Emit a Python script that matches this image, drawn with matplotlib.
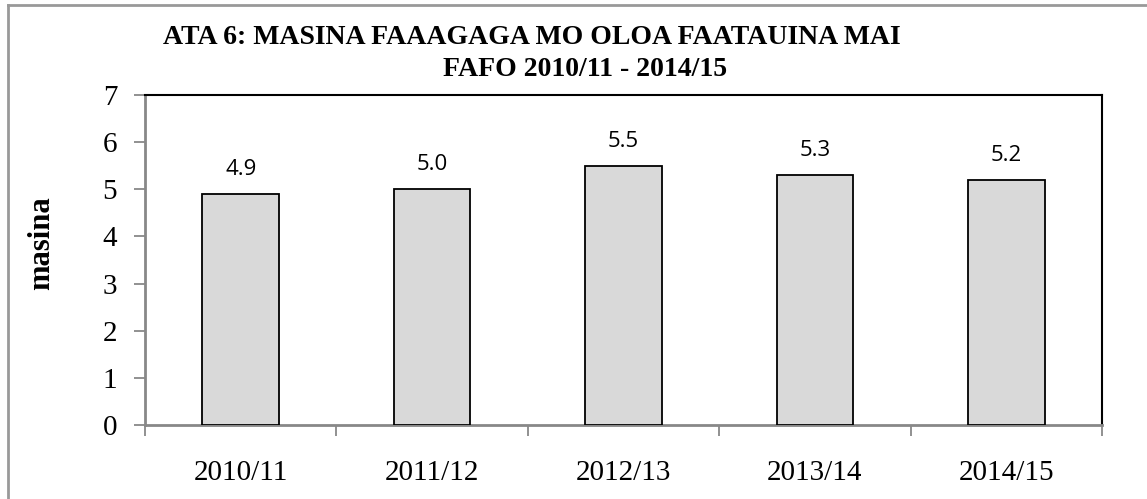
import matplotlib.pyplot as plt
import numpy as np
from matplotlib.lines import Line2D

years = ["2010/11", "2011/12", "2012/13", "2013/14", "2014/15"]
masina = [4.9, 5.0, 5.5, 5.3, 5.2]
labels = ["4.9", "5.0", "5.5", "5.3", "5.2"]

W, H = 1147, 499
fig = plt.figure(figsize=(W / 100, H / 100), dpi=100)

# axes box in pixels: left 145, right 1102, top 95, bottom 425
ax = fig.add_axes([145 / W, 1 - 425 / H, (1102 - 145) / W, (425 - 95) / H])

x = np.arange(len(years))
ax.bar(x, masina, width=0.4, color="#d9d9d9", edgecolor="black", linewidth=1.3, zorder=3)

for xi, v, lab in zip(x, masina, labels):
    ax.annotate(lab, (xi, v), xytext=(0, 10), textcoords="offset points",
                ha="center", va="bottom", fontsize=16, family="Open Sans")

ax.set_xlim(-0.5, len(years) - 0.5)
ax.set_ylim(0, 7)
ax.set_yticks(range(0, 8))
ax.set_yticklabels([str(i) for i in range(0, 8)], family="Liberation Serif", fontsize=21)

# category labels between boundary ticks
ax.set_xticks(np.arange(-0.5, len(years), 1.0))
ax.set_xticklabels([])
ax.set_xticks(x, minor=True)
ax.set_xticklabels(years, minor=True, family="Liberation Serif", fontsize=21)
ax.tick_params(axis="x", which="minor", length=0, pad=25)
ax.tick_params(axis="x", which="major", length=8, width=1.3, color="#888888", direction="out")
ax.tick_params(axis="y", length=8, width=1.3, color="#888888", direction="out", pad=12)

for s in ["left", "bottom"]:
    ax.spines[s].set_color("#888888")
    ax.spines[s].set_linewidth(2)
for s in ["top", "right"]:
    ax.spines[s].set_color("black")
    ax.spines[s].set_linewidth(1.5)

ax.set_ylabel("masina", family="Liberation Serif", fontsize=22, fontweight="bold")
ax.yaxis.set_label_coords((56 - 145) / (1102 - 145), 0.55)

fig.text(532 / W, 1 - 37 / H, "ATA 6: MASINA FAAAGAGA MO OLOA FAATAUINA MAI",
         ha="center", va="center", family="Liberation Serif", fontsize=20, fontweight="bold")
fig.text(585 / W, 1 - 69 / H, "FAFO 2010/11 - 2014/15",
         ha="center", va="center", family="Liberation Serif", fontsize=20, fontweight="bold")

# outer chart-area border (left and top edges visible)
fig.add_artist(Line2D([8 / W, 8 / W], [0, 1 - 5 / H], transform=fig.transFigure,
                      color="#999999", linewidth=2))
fig.add_artist(Line2D([8 / W, 1], [1 - 5 / H, 1 - 5 / H], transform=fig.transFigure,
                      color="#999999", linewidth=2))

fig.savefig("out.png", dpi=100)
